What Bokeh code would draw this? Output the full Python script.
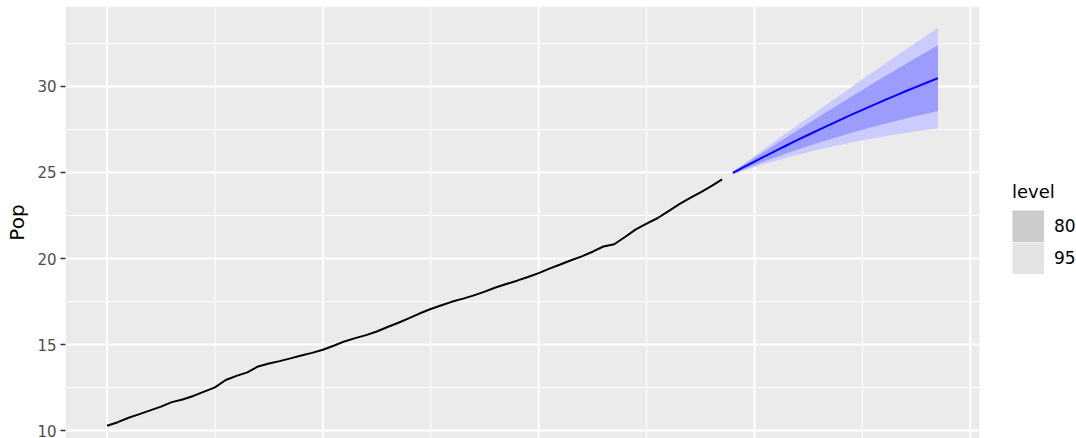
from bokeh.plotting import figure
from bokeh.models import Range1d, FixedTicker, Legend, LegendItem
from bokeh.embed import file_html
from bokeh.resources import INLINE

# Australian population (millions), annual
years_hist = list(range(1960, 2018))
pop_hist = [
    10.276, 10.483, 10.742, 10.950, 11.167, 11.388, 11.651, 11.799, 12.009, 12.263,
    12.507, 12.937, 13.177, 13.380, 13.723, 13.893, 14.033, 14.192, 14.358, 14.514,
    14.692, 14.927, 15.178, 15.369, 15.544, 15.758, 16.018, 16.264, 16.532, 16.814,
    17.065, 17.284, 17.495, 17.667, 17.855, 18.072, 18.311, 18.517, 18.711, 18.926,
    19.153, 19.413, 19.651, 19.895, 20.127, 20.395, 20.698, 20.828, 21.249, 21.692,
    22.032, 22.340, 22.742, 23.146, 23.504, 23.851, 24.211, 24.599,
]

# Damped-trend forecast, 2018-2037, with 80% and 95% intervals
years_fc = list(range(2018, 2038))
fc_mean = [24.980, 25.310, 25.636, 25.957, 26.273, 26.585, 26.892, 27.195, 27.494, 27.788,
           28.078, 28.363, 28.644, 28.920, 29.192, 29.459, 29.722, 29.980, 30.234, 30.483]
lo80 = [24.921, 25.178, 25.425, 25.662, 25.890, 26.112, 26.327, 26.535, 26.738, 26.933,
        27.123, 27.307, 27.485, 27.657, 27.824, 27.985, 28.140, 28.290, 28.434, 28.573]
hi80 = [25.039, 25.442, 25.847, 26.252, 26.656, 27.058, 27.457, 27.855, 28.250, 28.643,
        29.033, 29.419, 29.803, 30.183, 30.560, 30.933, 31.304, 31.670, 32.034, 32.393]
lo95 = [24.890, 25.108, 25.313, 25.506, 25.687, 25.862, 26.028, 26.186, 26.338, 26.480,
        26.617, 26.748, 26.871, 26.988, 27.100, 27.205, 27.302, 27.395, 27.481, 27.562]
hi95 = [25.070, 25.512, 25.959, 26.408, 26.859, 27.308, 27.756, 28.204, 28.650, 29.096,
        29.539, 29.978, 30.417, 30.852, 31.284, 31.713, 32.142, 32.565, 32.987, 33.404]

y_ticks = [10, 15, 20, 25, 30]
y_minor = [12.5, 17.5, 22.5, 27.5, 32.5]
x_major = [1960, 1980, 2000, 2020, 2040]
x_minor = [1970, 1990, 2010, 2030]
levels = ["80", "95"]
level_keys = ["#cccccc", "#e4e4e4"]

# panel limits (data + 5% padding); the canvas to the right of the panel holds the legend
X_LO, X_HI = 1956.15, 2040.85
Y_LO, Y_HI = 9.535, 34.651
X_CANVAS_HI = 2049.84

FONT = "DejaVu Sans"
PANEL = "#ebebeb"

p = figure(width=1076, height=438, output_backend="svg", toolbar_location=None,
           x_range=Range1d(X_LO, X_CANVAS_HI), y_range=Range1d(Y_LO, Y_HI),
           x_axis_location=None,
           min_border_left=65, min_border_right=0, min_border_top=6, min_border_bottom=0,
           background_fill_color="white", border_fill_color="white",
           outline_line_color=None)
p.ygrid.visible = False

# grey panel
p.quad(left=[X_LO], right=[X_HI], bottom=[Y_LO], top=[Y_HI],
       fill_color=PANEL, line_color=None)

# grid lines, drawn within the panel only
p.segment(x0=X_LO, x1=X_HI, y0=y_minor, y1=y_minor, line_color="white", line_width=1)
p.segment(x0=x_minor, x1=x_minor, y0=Y_LO, y1=Y_HI, line_color="white", line_width=1)
p.segment(x0=X_LO, x1=X_HI, y0=y_ticks, y1=y_ticks, line_color="white", line_width=2)
p.segment(x0=x_major, x1=x_major, y0=Y_LO, y1=Y_HI, line_color="white", line_width=2)

# y axis
ax = p.yaxis[0]
ax.ticker = FixedTicker(ticks=y_ticks)
ax.axis_line_color = None
ax.major_tick_in = 0
ax.major_tick_out = 5
ax.major_tick_line_color = "#333333"
ax.major_tick_line_width = 1.5
ax.minor_tick_line_color = None
ax.major_label_text_font = FONT
ax.major_label_text_font_size = "15px"
ax.major_label_text_color = "#4d4d4d"
ax.major_label_standoff = 4
ax.axis_label = "Pop"
ax.axis_label_text_font = FONT
ax.axis_label_text_font_size = "20px"
ax.axis_label_text_font_style = "normal"
ax.axis_label_text_color = "black"
ax.axis_label_standoff = 5

# history
p.line(years_hist, pop_hist, line_color="black", line_width=2)

# forecast intervals and mean
p.varea(x=years_fc, y1=lo95, y2=hi95, fill_color="#cbcbfd")
p.varea(x=years_fc, y1=lo80, y2=hi80, fill_color="#9c9cfc")
p.line(years_fc, fc_mean, line_color="#0000ff", line_width=2)

# legend keys (grey swatches for the interval level); NaN data keeps them off the panel
key_renderers = []
for c in level_keys:
    r = p.rect(x=[float("nan")], y=[float("nan")], width=1, height=1,
               fill_color=c, line_color=c, line_width=6.4, line_join="miter")
    key_renderers.append(r)

legend = Legend(items=[LegendItem(label=lv, renderers=[r]) for lv, r in zip(levels, key_renderers)],
                title="level", location=(947, 164),
                title_text_font=FONT, title_text_font_size="18px",
                title_text_font_style="normal", title_text_color="black",
                title_standoff=8,
                label_text_font=FONT, label_text_font_size="17px", label_text_color="black",
                glyph_width=32, glyph_height=32, label_height=32, label_standoff=10,
                spacing=0, padding=0, margin=0,
                border_line_color=None, background_fill_alpha=0)
p.add_layout(legend)

open("out.html", "w").write(file_html(p, INLINE))
